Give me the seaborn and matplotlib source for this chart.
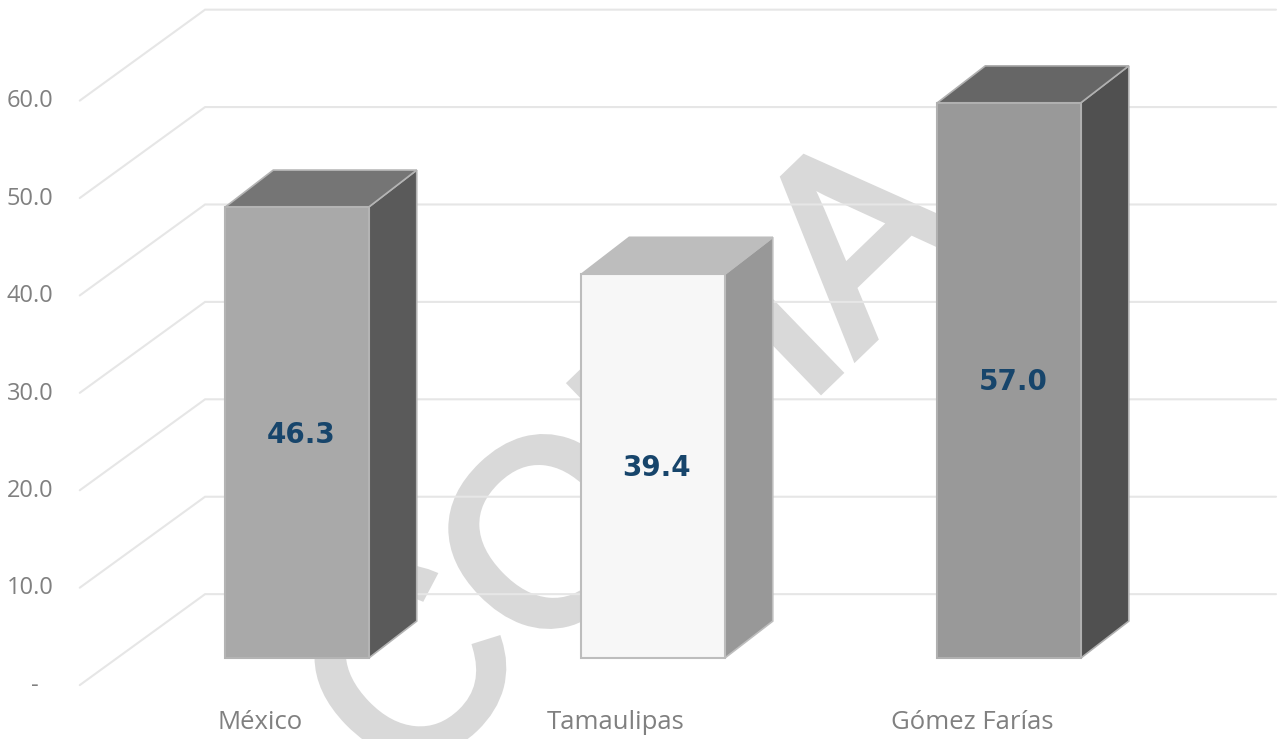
import matplotlib
matplotlib.use("Agg")
import matplotlib.pyplot as plt
import matplotlib.patheffects as pe
import pandas as pd
import seaborn as sns
from matplotlib.patches import Polygon

# Chart data
categories = ["México", "Tamaulipas", "Gómez Farías"]
values = [46.3, 39.4, 57.0]
axis_ticks = [0, 10, 20, 30, 40, 50, 60]
axis_labels = ["-", "10.0", "20.0", "30.0", "40.0", "50.0", "60.0"]

# Colours of each bar: front, side, top, edge
front_colors = ["#a9a9a9", "#f7f7f7", "#999999"]
side_colors = ["#5a5a5a", "#989898", "#505050"]
top_colors = ["#757575", "#bdbdbd", "#666666"]
edge_colors = ["#b4b4b4", "#bdbdbd", "#b0b0b0"]

# Depth of the fake 3D box, in data units
DEPTH_X = 0.135
DEPTH_Y = 3.8

df = pd.DataFrame({"region": categories, "value": values})

sns.set_theme(style="white")
plt.rcParams["font.family"] = ["Open Sans", "DejaVu Sans"]

fig = plt.figure(figsize=(12.81, 7.39), dpi=100)
ax = fig.add_axes([0, 0, 1, 1])

sns.barplot(data=df, x="region", y="value", hue="region", palette=front_colors,
            width=0.403, legend=False, saturation=1, ax=ax, zorder=5)

ax.set_xlim(-0.834, 2.764)
ax.set_ylim(-8.3, 67.56)
ax.axis("off")

# Watermark behind the chart
ax.text(0.503, 0.367, "COPIA", transform=ax.transAxes, fontsize=186, color="#d9d9d9",
        family="Liberation Sans", rotation=44, rotation_mode="anchor",
        ha="center", va="center", zorder=1, clip_on=True,
        path_effects=[pe.withStroke(linewidth=6, foreground="#d9d9d9", joinstyle="miter")])

# Walls: floor lines on the left, then the back wall lines
for v in axis_ticks:
    ax.plot([-0.61, -0.258, 2.75], [v - 2.77, v + 6.57, v + 6.57],
            color="#e6e6e6", lw=1.5, zorder=2, solid_joinstyle="miter")

# Side and top faces of each box
for i, bar in enumerate(ax.patches):
    x0 = bar.get_x()
    x1 = x0 + bar.get_width()
    h = bar.get_height()
    bar.set_edgecolor(edge_colors[i])
    bar.set_linewidth(1.5)
    side = [(x1, 0), (x1 + DEPTH_X, DEPTH_Y), (x1 + DEPTH_X, h + DEPTH_Y), (x1, h)]
    top = [(x0, h), (x0 + DEPTH_X, h + DEPTH_Y), (x1 + DEPTH_X, h + DEPTH_Y), (x1, h)]
    ax.add_patch(Polygon(side, facecolor=side_colors[i], edgecolor=edge_colors[i], lw=1.2, zorder=4))
    ax.add_patch(Polygon(top, facecolor=top_colors[i], edgecolor=edge_colors[i], lw=1.2, zorder=4))
    ax.text(i + 0.011, h / 2 - 0.2, f"{h:.1f}", ha="center", va="center", fontsize=20,
            fontweight="bold", color="#17456b", family="DejaVu Sans", zorder=6)

# Value axis labels, following the left end of the floor lines
for v, lab in zip(axis_ticks, axis_labels):
    label_x = -0.735 if v == 0 else -0.75
    ax.text(label_x, v - 2.85, lab, ha="center", va="center", fontsize=17, color="#808080")

# Category labels are shifted to the left of the bars
for i, cat in enumerate(categories):
    ax.text(i - 0.104, -6.6, cat, ha="center", va="center", fontsize=18.5, color="#808080")

fig.savefig("out.png", dpi=100)
plt.close()
